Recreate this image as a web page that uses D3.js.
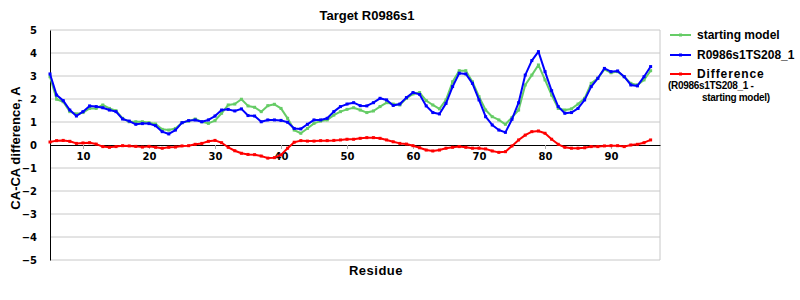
<!DOCTYPE html>
<html lang="en">
<head>
<meta charset="UTF-8">
<title>Target R0986s1</title>
<script src="https://d3js.org/d3.v7.min.js"></script>
<style>
  body { margin: 0; background: #fff; }
  svg { display: block; }
  .tick-lbl { font-family: "DejaVu Sans", Verdana, sans-serif; font-weight: bold; font-size: 10px; fill: #000; }
  .lbl { font-family: "Liberation Sans", Arial, sans-serif; font-weight: bold; fill: #000; }
</style>
</head>
<body>
<svg width="800" height="300"></svg>
<script>
// residue numbers
var residues = [5,6,7,8,9,10,11,12,13,14,15,16,17,18,19,20,21,22,23,24,25,26,27,28,29,30,
  31,32,33,34,35,36,37,38,39,40,41,42,43,44,45,46,47,48,49,50,51,52,53,54,55,56,57,58,59,60,
  61,62,63,64,65,66,67,68,69,70,71,72,73,74,75,76,77,78,79,80,81,82,83,84,85,86,87,88,89,90,
  91,92,93,94,95,96];

var startingModel = [2.97,1.99,1.88,1.45,1.35,1.41,1.59,1.59,1.74,1.59,1.49,1.16,1.01,1.01,1.01,0.97,0.91,0.68,0.65,0.72,0.97,1.04,1.13,1.01,
  0.94,1.06,1.38,1.74,1.78,1.99,1.70,1.64,1.45,1.71,1.77,1.59,1.16,0.65,0.51,0.72,0.94,1.04,1.09,1.30,1.45,1.55,1.62,
  1.52,1.41,1.48,1.67,1.84,1.78,1.74,2.03,2.22,2.28,1.93,1.74,1.57,1.96,2.75,3.23,3.23,2.75,2.10,1.52,1.23,1.09,0.90,
  1.20,1.52,2.61,3.04,3.48,2.83,2.17,1.59,1.52,1.57,1.78,2.03,2.68,2.90,3.29,3.14,3.19,2.97,2.68,2.61,2.83,3.23];

var model208 = [3.09,2.17,1.93,1.52,1.26,1.45,1.70,1.67,1.62,1.52,1.45,1.13,1.04,0.90,0.93,0.93,0.84,0.58,0.48,0.65,0.97,1.06,1.09,1.01,
  1.09,1.26,1.52,1.55,1.48,1.57,1.28,1.26,1.01,1.09,1.09,1.07,0.99,0.72,0.70,0.90,1.09,1.09,1.16,1.45,1.67,1.78,1.84,
  1.71,1.70,1.84,2.03,1.96,1.72,1.78,2.06,2.28,2.20,1.70,1.41,1.35,1.81,2.54,3.12,3.09,2.68,1.96,1.23,0.87,0.65,0.55,
  1.12,1.84,3.04,3.67,4.06,3.19,2.36,1.67,1.38,1.41,1.59,1.96,2.54,2.90,3.33,3.19,3.22,2.97,2.61,2.57,2.97,3.41];

var difference = [0.13,0.19,0.20,0.16,0.07,0.09,0.10,0.04,-0.07,-0.10,-0.07,-0.03,-0.04,-0.06,-0.09,-0.06,-0.10,-0.14,-0.10,-0.09,-0.04,-0.03,0.03,0.07,
  0.16,0.20,0.10,-0.10,-0.25,-0.36,-0.41,-0.42,-0.48,-0.57,-0.55,-0.43,-0.14,0.12,0.19,0.17,0.17,0.19,0.19,0.20,0.22,0.25,0.25,
  0.29,0.32,0.32,0.29,0.22,0.14,0.07,0.04,-0.03,-0.12,-0.22,-0.26,-0.22,-0.14,-0.10,-0.07,-0.10,-0.14,-0.14,-0.17,-0.26,-0.32,-0.29,
  -0.04,0.22,0.43,0.58,0.61,0.51,0.25,0.03,-0.10,-0.14,-0.14,-0.12,-0.07,-0.07,-0.04,-0.03,-0.03,-0.07,0.00,0.03,0.10,0.22];

var xTicks = [10,20,30,40,50,60,70,80,90];
var yTicks = [-5,-4,-3,-2,-1,0,1,2,3,4,5];

var seriesNames = ["starting model", "R0986s1TS208_1", "Difference"];
var seriesColors = ["#66cc66", "#0000ff", "#ff0000"];

var plotLeft = 50, plotRight = 660, plotTop = 30, plotBottom = 260;
var svg = d3.select("svg");

var x = d3.scaleLinear().domain([5, 97.42]).range([plotLeft, plotRight]);
var y = d3.scaleLinear().domain([-5, 5]).range([plotBottom, plotTop]);

// grid lines
svg.append("g")
  .selectAll("line")
  .data(yTicks.filter(function (d) { return d !== 0; }))
  .enter()
  .append("line")
    .attr("x1", plotLeft).attr("x2", plotRight)
    .attr("y1", function (d) { return y(d); })
    .attr("y2", function (d) { return y(d); })
    .attr("stroke", "#c8c8c8");

// right border
svg.append("line")
  .attr("x1", plotRight).attr("x2", plotRight)
  .attr("y1", plotTop).attr("y2", plotBottom)
  .attr("stroke", "#c8c8c8");

// y axis
var yAxis = svg.append("g")
  .attr("transform", "translate(" + plotLeft + ",0)")
  .call(d3.axisLeft(y).tickValues(yTicks).tickSize(0).tickPadding(13)
    .tickFormat(function (d) { return d < 0 ? "\u2212" + Math.abs(d) : d; }));
yAxis.select(".domain").attr("stroke", "#000");
yAxis.selectAll("text").attr("class", "tick-lbl");
yAxis.attr("font-family", null).attr("font-size", null);

// x axis at zero
var xAxis = svg.append("g")
  .attr("transform", "translate(0," + y(0) + ")")
  .call(d3.axisBottom(x).tickValues(xTicks).tickSize(4).tickPadding(4).tickSizeOuter(0));
xAxis.select(".domain").attr("stroke", "#000");
xAxis.selectAll(".tick line").attr("stroke", "#aaaaaa");
xAxis.selectAll("text").attr("class", "tick-lbl");
xAxis.attr("font-family", null).attr("font-size", null);

// series
var allSeries = [startingModel, model208, difference];
var line = d3.line()
  .x(function (d, i) { return x(residues[i]); })
  .y(function (d) { return y(d); });

allSeries.forEach(function (vals, k) {
  svg.append("path")
    .datum(vals)
    .attr("fill", "none")
    .attr("stroke", seriesColors[k])
    .attr("stroke-width", 2)
    .attr("stroke-linejoin", "round")
    .attr("d", line);
  svg.append("g")
    .selectAll("rect")
    .data(vals)
    .enter()
    .append("rect")
      .attr("x", function (d, i) { return x(residues[i]) - 1.5; })
      .attr("y", function (d) { return y(d) - 1.5; })
      .attr("width", 3).attr("height", 3)
      .attr("fill", seriesColors[k]);
});

// title and axis titles
svg.append("text").attr("class", "lbl")
  .attr("x", 367).attr("y", 20)
  .attr("text-anchor", "middle").attr("font-size", 13)
  .text("Target R0986s1");

svg.append("text").attr("class", "lbl")
  .attr("x", 376).attr("y", 275)
  .attr("text-anchor", "middle").attr("font-size", 13)
  .attr("letter-spacing", 0.5)
  .text("Residue");

svg.append("text").attr("class", "lbl")
  .attr("transform", "translate(20,148) rotate(-90)")
  .attr("text-anchor", "middle").attr("font-size", 13)
  .text("CA-CA difference, A");

// legend
var legendY = [35, 55, 74];
seriesNames.forEach(function (name, k) {
  svg.append("line")
    .attr("x1", 670).attr("x2", 691)
    .attr("y1", legendY[k]).attr("y2", legendY[k])
    .attr("stroke", seriesColors[k]).attr("stroke-width", 2);
  svg.append("rect")
    .attr("x", 679).attr("y", legendY[k] - 1.5)
    .attr("width", 3).attr("height", 3)
    .attr("fill", seriesColors[k]);
  svg.append("text").attr("class", "lbl")
    .attr("x", 697).attr("y", legendY[k] + 4)
    .attr("font-size", 12)
    .attr("letter-spacing", k === 2 ? 0.9 : 0)
    .text(name);
});
svg.append("text").attr("class", "lbl")
  .attr("x", 668).attr("y", 89)
  .attr("font-size", 10).attr("letter-spacing", -0.3)
  .text("(R0986s1TS208_1 -");
svg.append("text").attr("class", "lbl")
  .attr("x", 702).attr("y", 101)
  .attr("font-size", 10).attr("letter-spacing", -0.3)
  .text("starting model)");
</script>
</body>
</html>
